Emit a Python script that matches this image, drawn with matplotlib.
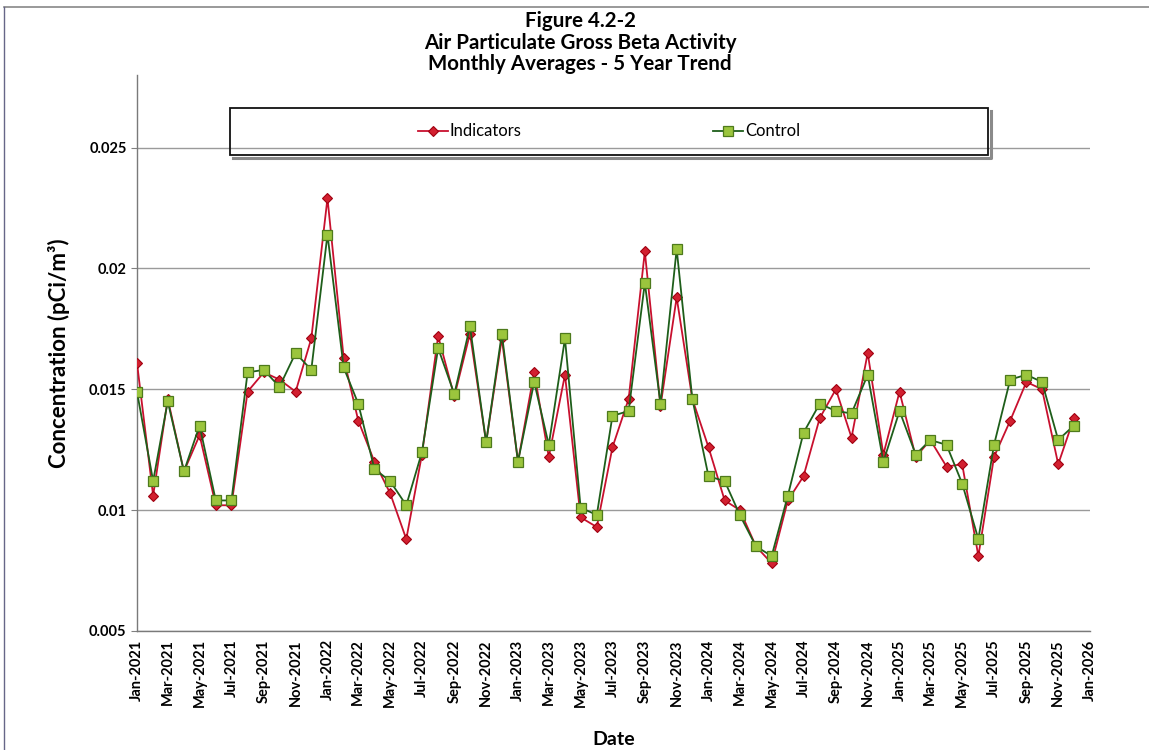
import numpy as np
import pandas as pd
import matplotlib
matplotlib.use("Agg")
import matplotlib.pyplot as plt
import matplotlib.dates as mdates
from matplotlib.patches import Rectangle
from matplotlib.lines import Line2D

plt.rcParams["font.family"] = ["Lato", "DejaVu Sans"]

months = pd.date_range("2021-01-01", "2025-12-01", freq="MS")

indicators = [0.0161, 0.0106, 0.0146, 0.0116, 0.0131, 0.0102, 0.0102, 0.0149, 0.0157, 0.0154,
              0.0149, 0.0171, 0.0229, 0.0163, 0.0137, 0.0120, 0.0107, 0.0088, 0.0123, 0.0172,
              0.0147, 0.0173, 0.0128, 0.0171, 0.0120, 0.0157, 0.0122, 0.0156, 0.0097, 0.0093,
              0.0126, 0.0146, 0.0207, 0.0143, 0.0188, 0.0146, 0.0126, 0.0104, 0.0100, 0.0085,
              0.0078, 0.0104, 0.0114, 0.0138, 0.0150, 0.0130, 0.0165, 0.0123, 0.0149, 0.0122,
              0.0129, 0.0118, 0.0119, 0.0081, 0.0122, 0.0137, 0.0153, 0.0150, 0.0119, 0.0138]
control = [0.0149, 0.0112, 0.0145, 0.0116, 0.0135, 0.0104, 0.0104, 0.0157, 0.0158, 0.0151,
           0.0165, 0.0158, 0.0214, 0.0159, 0.0144, 0.0117, 0.0112, 0.0102, 0.0124, 0.0167,
           0.0148, 0.0176, 0.0128, 0.0173, 0.0120, 0.0153, 0.0127, 0.0171, 0.0101, 0.0098,
           0.0139, 0.0141, 0.0194, 0.0144, 0.0208, 0.0146, 0.0114, 0.0112, 0.0098, 0.0085,
           0.0081, 0.0106, 0.0132, 0.0144, 0.0141, 0.0140, 0.0156, 0.0120, 0.0141, 0.0123,
           0.0129, 0.0127, 0.0111, 0.0088, 0.0127, 0.0154, 0.0156, 0.0153, 0.0129, 0.0135]

yticks = [0.005, 0.01, 0.015, 0.02, 0.025]
ytick_labels = ["0.005", "0.01", "0.015", "0.02", "0.025"]

fig = plt.figure(figsize=(11.49, 7.5), dpi=100)
ax = fig.add_axes([0.1192, 0.1587, 0.8295, 0.7413])

ax.plot(months, indicators, color="#C8102E", lw=1.3, marker="D", ms=5,
        mfc="#D22030", mec="#A00010", mew=0.8, label="Indicators", zorder=3)
ax.plot(months, control, color="#1E5E1A", lw=1.3, marker="s", ms=7.5,
        mfc="#9BC53D", mec="#4E7A1C", mew=0.9, label="Control", zorder=4)

ax.set_xlim(pd.Timestamp("2021-01-01"), pd.Timestamp("2026-01-01"))
ax.set_ylim(0.005, 0.028)
ax.set_yticks(yticks)
ax.set_yticklabels(ytick_labels, fontsize=10.5, fontweight="bold")
ax.xaxis.set_major_locator(mdates.MonthLocator(bymonth=[1, 3, 5, 7, 9, 11]))
ax.xaxis.set_major_formatter(mdates.DateFormatter("%b-%Y"))
for lab in ax.get_xticklabels():
    lab.set_rotation(90); lab.set_fontsize(10.5); lab.set_fontweight("bold")
ax.tick_params(axis="x", length=0, pad=6)
ax.tick_params(axis="y", length=4, direction="out", color="#808080", pad=3.5)

ax.grid(axis="y", color="#9a9a9a", lw=1.0)
ax.set_axisbelow(True)
for s in ("top", "right"):
    ax.spines[s].set_visible(False)
for s in ("left", "bottom"):
    ax.spines[s].set_color("#7a7a7a"); ax.spines[s].set_linewidth(1.0)

ax.set_ylabel("Concentration (pCi/m³)", fontsize=16, fontweight="bold", labelpad=14)
ax.set_xlabel("Date", fontsize=14, fontweight="bold", labelpad=17)

fig.text(0.505, 0.985, "Figure 4.2-2\nAir Particulate Gross Beta Activity\nMonthly Averages - 5 Year Trend",
         ha="center", va="top", fontsize=14.8, fontweight="bold", linespacing=1.1)

# legend frame with drop shadow on right and bottom
W, H = 1149, 750
bx, by, bw, bh = 230 / W, (750 - 155) / H, 758 / W, 47 / H
dx, dy = 3 / W, 3 / H
fig.lines.append(Line2D([bx + bw + dx, bx + bw + dx, bx + dx], [by + bh - dy, by - dy, by - dy],
                        transform=fig.transFigure, color="#8a8a8a", lw=2.2, zorder=5))
fig.patches.append(Rectangle((bx, by), bw, bh, transform=fig.transFigure,
                             fill=False, ec="#111111", lw=1.3, zorder=6))
leg = fig.legend(loc="center", bbox_to_anchor=(bx + bw / 2, by + bh / 2), ncol=2, frameon=False,
                 fontsize=12, columnspacing=11.5, handlelength=1.8, handletextpad=0.1)

# outer page frame (top and left edges visible)
fig.lines.append(Line2D([4 / W, 1.0], [1 - 7 / H, 1 - 7 / H], transform=fig.transFigure, color="#888888", lw=1.2))
fig.lines.append(Line2D([4 / W, 4 / W], [0, 1 - 7 / H], transform=fig.transFigure, color="#666688", lw=1.0))

fig.savefig("out.png", dpi=100)
